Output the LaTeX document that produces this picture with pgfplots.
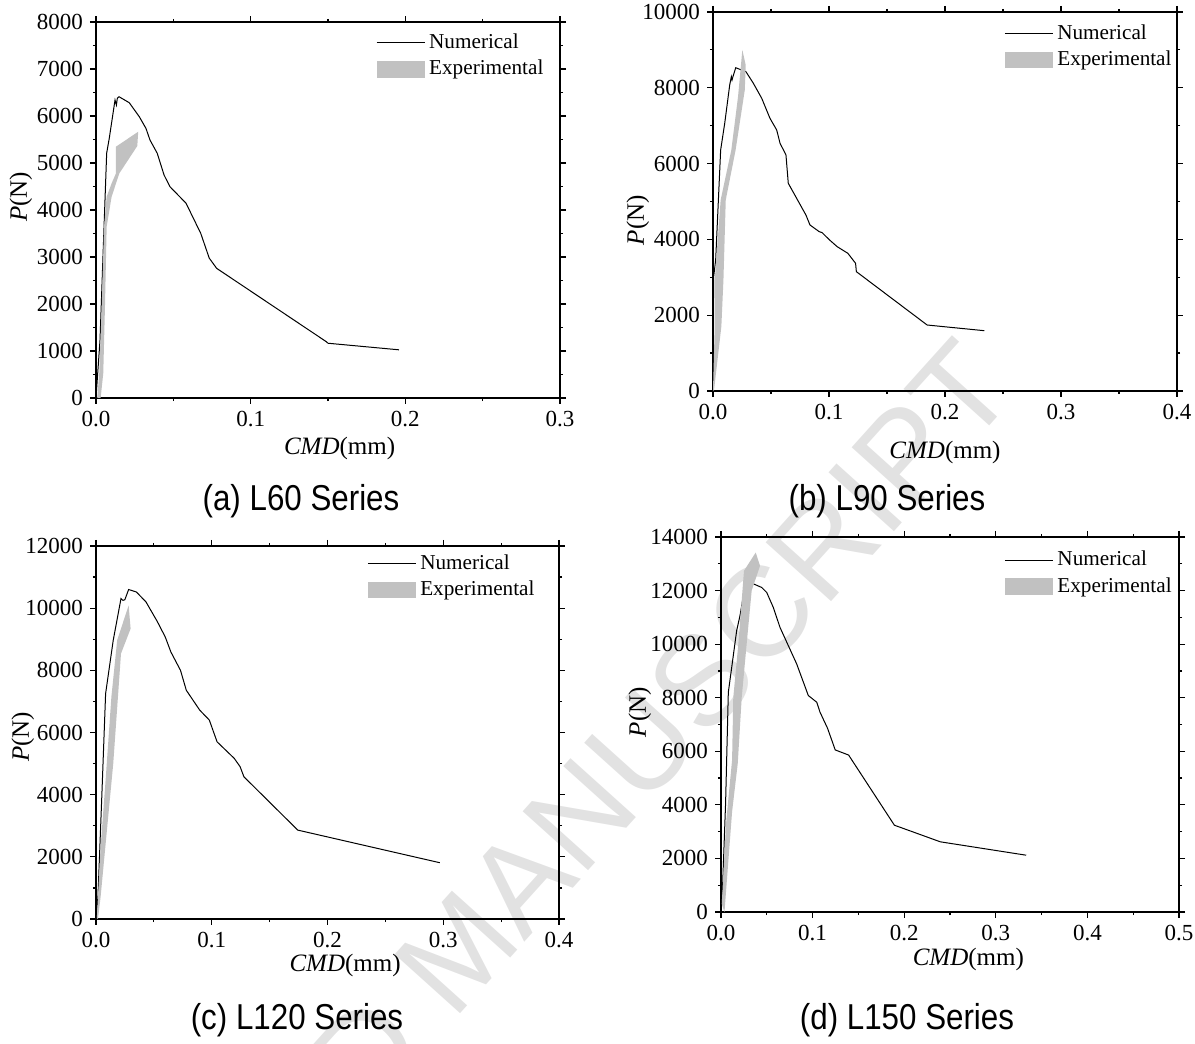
\documentclass[border=0pt]{standalone}
\usepackage{pgfplots}
\pgfplotsset{compat=1.18}
\usepackage{fontspec}
\setmainfont{Liberation Serif}
\newfontfamily\capfont{Liberation Sans}

\definecolor{expgray}{RGB}{193,193,193}
\definecolor{wmgray}{RGB}{226,226,226}

\newcommand\tickfont{\fontsize{11.5}{13}\selectfont}

\pgfplotsset{
  every tick label/.append style={font=\tickfont},
  cmdpanel/.style={
    scale only axis,
    font=\tickfont,
    xmin=0, ymin=0,
    tick align=outside,
    major tick length=3pt,
    minor tick length=1.6pt,
    axis line style={line width=0.7pt},
    every tick/.style={black, line width=0.6pt},
    xtick distance=0.1,
    minor x tick num=1,
    minor y tick num=1,
    scaled ticks=false,
    /pgf/number format/assume math mode=true,
    xticklabel style={font=\tickfont, /pgf/number format/fixed,
      /pgf/number format/fixed zerofill, /pgf/number format/precision=1},
    yticklabel style={font=\tickfont, /pgf/number format/fixed,
      /pgf/number format/precision=0, /pgf/number format/1000 sep={}},
    xlabel={\textit{CMD}(mm)},
    ylabel={\textit{P}(N)},
    legend style={draw=none, fill=none, inner sep=0pt, anchor=north west,
      font=\fontsize{10.6}{12.8}\selectfont, cells={anchor=west},
      row sep=0.5pt},
  },
  % axis labels placed at given fractions of the axis box
  xlab/.style 2 args={x label style={at={(axis description cs:#1,#2)}, anchor=center,
      font=\fontsize{12.5}{14}\selectfont}},
  ylab/.style 2 args={y label style={at={(axis description cs:#1,#2)}, rotate=0, anchor=center,
      font=\fontsize{12.5}{14}\selectfont}},
  numline/.style={black, line width=0.5pt, mark=none,
    legend image code/.code={\draw[black, line width=0.5pt] (0pt,0pt) -- (24pt,0pt);}},
  expband/.style={fill=expgray, draw=none, mark=none,
    legend image code/.code={\fill[expgray] (0pt,-4.2pt) rectangle (24pt,4.2pt);}},
}

\begin{document}
\begin{tikzpicture}
\useasboundingbox (0pt,0pt) rectangle (597.5pt,522pt);

% watermark
\node[rotate=48, anchor=base east, text=wmgray, inner sep=0pt]
  at (510pt,326pt) {\capfont\fontsize{64}{64}\selectfont ACCEPTED MANUSCRIPT};

% ---------------- (a) L60
\begin{axis}[cmdpanel,
  at={(48pt,323pt)}, anchor=south west, width=232pt, height=188pt,
  xmax=0.3, ymax=8000, ytick distance=1000,
  xlab={0.525}{-0.133}, ylab={-0.162}{0.535},
  legend style={at={(axis description cs:0.603,0.981)}},
]
\addplot[numline] coordinates {
(0,0) (0.0026,1234) (0.0052,3640) (0.0069,5210) (0.0086,5530) (0.0123,6340)
(0.0132,6234) (0.0138,6380) (0.0149,6410) (0.0215,6283) (0.028,5985)
(0.0323,5737) (0.0349,5490) (0.0396,5206) (0.044,4745) (0.0478,4496)
(0.0582,4145) (0.0677,3505) (0.0732,2977) (0.078,2759) (0.1488,1200)
(0.1500,1165) (0.1959,1025)};
\addlegendentry{Numerical}
\addplot[expband] coordinates {
(0.0008,0) (0.0021,525) (0.0037,1943) (0.0052,3645) (0.0069,4283)
(0.0101,4567) (0.0129,4780) (0.0129,5347) (0.0273,5666) (0.0267,5362)
(0.0151,4780) (0.0101,4283) (0.0069,3645) (0.0058,1943) (0.0047,525) (0.003,0)};
\addlegendentry{Experimental}
\end{axis}

% ---------------- (b) L90
\begin{axis}[cmdpanel,
  at={(356.5pt,326.5pt)}, anchor=south west, width=232pt, height=189.5pt,
  xmax=0.4, ymax=10000, ytick distance=2000,
  xlab={0.5}{-0.161}, ylab={-0.162}{0.451},
  legend style={at={(axis description cs:0.627,0.979)}},
]
\addplot[numline] coordinates {
(0,0) (0.0003,1500) (0.0005,3000) (0.0023,3456) (0.0066,6360) (0.0101,7063)
(0.0144,8074) (0.0158,8293) (0.0164,8206) (0.0172,8293) (0.0196,8530)
(0.0224,8496) (0.0284,8425) (0.0348,8118) (0.042,7723) (0.0491,7195)
(0.0549,6887) (0.0578,6536) (0.0629,6227) (0.0649,5480) (0.0721,5084)
(0.0801,4644) (0.0836,4380) (0.0916,4203) (0.094,4180) (0.1005,3984)
(0.1071,3807) (0.1163,3632) (0.1229,3369) (0.1236,3148) (0.1846,1741)
(0.2339,1591)};
\addlegendentry{Numerical}
\addplot[expband] coordinates {
(0.0,30) (0.0015,1700) (0.0015,2930) (0.0066,5040) (0.0158,6360)
(0.0216,7770) (0.0253,9000) (0.0282,8600) (0.0274,7940) (0.0195,6360)
(0.011,5040) (0.009,2930) (0.0072,1700) (0.0008,0)};
\addlegendentry{Experimental}
\end{axis}

% ---------------- (c) L120
\begin{axis}[cmdpanel,
  at={(48pt,62.5pt)}, anchor=south west, width=231.5pt, height=186.5pt,
  xmax=0.4, ymax=12000, ytick distance=2000,
  xlab={0.538}{-0.124}, ylab={-0.158}{0.488},
  legend style={at={(axis description cs:0.585,0.989)}},
]
\addplot[numline] coordinates {
(0,0) (0.0017,720) (0.005,3930) (0.0083,7250) (0.0149,8970) (0.0216,10310)
(0.0232,10250) (0.0249,10270) (0.0282,10600) (0.0349,10520) (0.0432,10200)
(0.0531,9560) (0.0598,9075) (0.0647,8590) (0.073,8000) (0.078,7360)
(0.0896,6720) (0.0979,6400) (0.1046,5700) (0.1195,5165) (0.1245,4900)
(0.1278,4575) (0.1743,2860) (0.2971,1810)};
\addlegendentry{Numerical}
\addplot[expband] coordinates {
(0.0007,20) (0.004,2325) (0.0083,4470) (0.0133,7150) (0.0183,8970)
(0.0282,10090) (0.0299,9340) (0.0216,8540) (0.0149,5000) (0.01,3075)
(0.004,720) (0.0017,0)};
\addlegendentry{Experimental}
\end{axis}

% ---------------- (d) L150
\begin{axis}[cmdpanel,
  at={(360.5pt,66pt)}, anchor=south west, width=229pt, height=187.5pt,
  xmax=0.5, ymax=14000, ytick distance=2000,
  xlab={0.54}{-0.126}, ylab={-0.177}{0.533},
  legend style={at={(axis description cs:0.618,0.974)}},
]
\addplot[numline] coordinates {
(0,0) (0.0017,935) (0.005,4050) (0.008,8205) (0.0117,9136) (0.0171,10503)
(0.0207,11061) (0.0251,11930) (0.028,12116) (0.0298,12279) (0.0335,12279)
(0.0444,12116) (0.0499,11930) (0.0571,11371) (0.0644,10626) (0.0735,9944)
(0.0826,9262) (0.0953,8082) (0.1045,7832) (0.1081,7460) (0.1163,6860)
(0.1247,6050) (0.1393,5860) (0.1893,3240) (0.2394,2620) (0.3332,2120)};
\addlegendentry{Numerical}
\addplot[expband] coordinates {
(0.0008,300) (0.0058,3430) (0.0121,5670) (0.0134,8000) (0.0189,10000)
(0.0251,12737) (0.0379,13420) (0.0426,12924) (0.0335,12000) (0.028,10000)
(0.0226,8000) (0.0183,5550) (0.0121,3740) (0.0038,0)};
\addlegendentry{Experimental}
\end{axis}

% panel captions
\node[font=\capfont\fontsize{18}{20}\selectfont] at (150.5pt,271.5pt) {\scalebox{0.87}[1]{(a) L60 Series}};
\node[font=\capfont\fontsize{18}{20}\selectfont] at (443.5pt,271.5pt) {\scalebox{0.87}[1]{(b) L90 Series}};
\node[font=\capfont\fontsize{18}{20}\selectfont] at (148.5pt,12pt) {\scalebox{0.87}[1]{(c) L120 Series}};
\node[font=\capfont\fontsize{18}{20}\selectfont] at (453.5pt,12pt) {\scalebox{0.87}[1]{(d) L150 Series}};
\end{tikzpicture}
\end{document}
